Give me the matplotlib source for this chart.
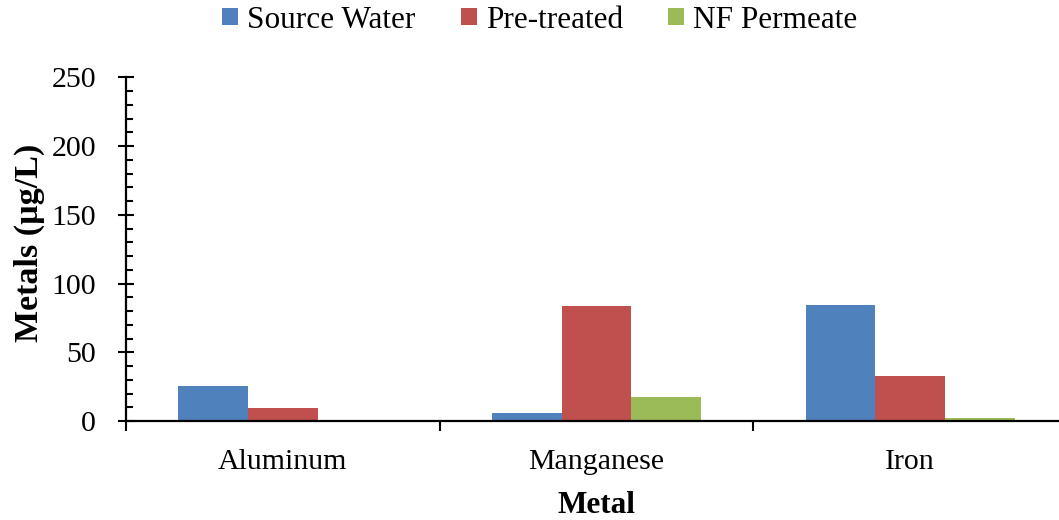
import numpy as np
import matplotlib
matplotlib.use("Agg")
import matplotlib.pyplot as plt
from matplotlib.patches import Patch

plt.rcParams["font.family"] = "Liberation Serif"

# data
metals = ["Aluminum", "Manganese", "Iron"]
series = ["Source Water", "Pre-treated", "NF Permeate"]
source_water = [25.5, 6.0, 84.3]
pre_treated = [9.7, 83.5, 33.0]
nf_permeate = [0.0, 17.2, 2.4]
colors = ["#4F81BD", "#C0504D", "#9BBB59"]

fig = plt.figure(figsize=(10.59, 5.20), dpi=100)
ax = fig.add_axes([126 / 1059, 99 / 520, 941 / 1059, 343.7 / 520])

x = np.arange(len(metals))
w = 1 / 4.5
for j, vals in enumerate([source_water, pre_treated, nf_permeate]):
    ax.bar(x + (j - 1) * w, vals, width=w, color=colors[j], linewidth=0, zorder=2)

ax.set_xlim(-0.5, 2.5)
ax.set_ylim(0, 250)

for s in ["top", "right"]:
    ax.spines[s].set_visible(False)
for s in ["left", "bottom"]:
    ax.spines[s].set_linewidth(1.6)
    ax.spines[s].set_zorder(3)

# y axis: majors every 50, minors every 10
ax.set_yticks(np.arange(0, 251, 50))
ax.set_yticks(np.arange(0, 251, 10), minor=True)
ax.tick_params(axis="y", which="major", direction="inout", length=12, width=1.5,
               labelsize=21.5, pad=15.5)
ax.tick_params(axis="y", which="minor", direction="in", length=4.8, width=1.5)

# x axis: tick marks at category boundaries, labels at centres
ax.set_xticks([-0.5, 0.5, 1.5, 2.5])
ax.set_xticklabels([])
ax.set_xticks(x, minor=True)
ax.set_xticklabels(metals, minor=True)
ax.tick_params(axis="x", which="major", direction="out", length=7.5, width=1.5)
ax.tick_params(axis="x", which="minor", length=0, labelsize=21.5, pad=20)

ax.set_xlabel("Metal", fontsize=22.5, fontweight="bold", labelpad=12)
ax.set_ylabel("Metals (µg/L)", fontsize=24.5, fontweight="bold")
ax.yaxis.set_label_coords(-0.086, 0.518)

handles = [Patch(facecolor=c, linewidth=0) for c in colors]
fig.legend(handles, series, loc="center", bbox_to_anchor=(540 / 1059, 1 - 20 / 520),
           ncol=3, frameon=False, fontsize=22.5, handlelength=0.5, handleheight=0.5,
           handletextpad=0.3, columnspacing=1.45, borderpad=0)

fig.savefig("out.png", dpi=100)
